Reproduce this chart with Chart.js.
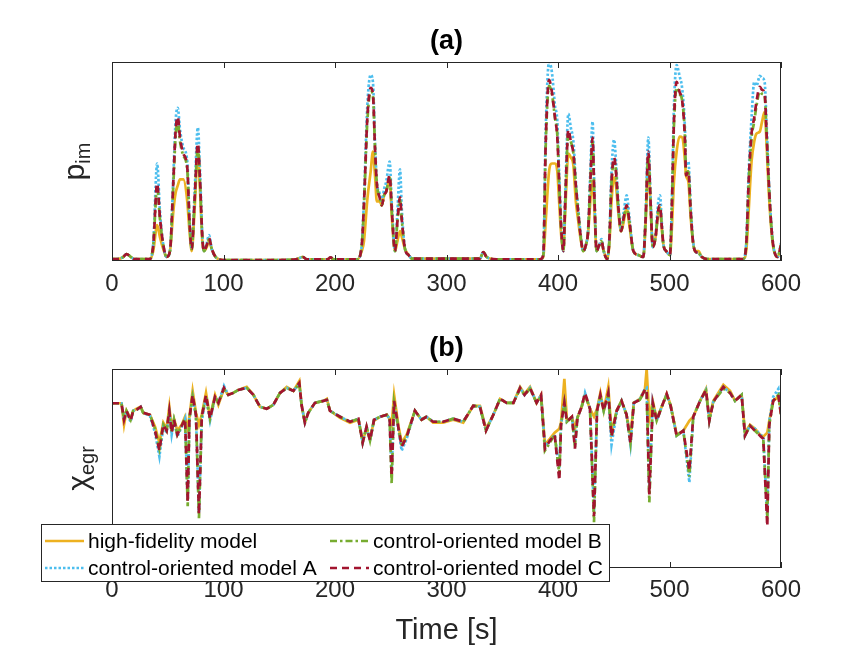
<!DOCTYPE html>
<html>
<head>
<meta charset="utf-8">
<script src="https://cdn.jsdelivr.net/npm/chart.js@4.4.0/dist/chart.umd.min.js"></script>
<style>
  html, body { margin: 0; padding: 0; background: #fff; }
  #wrap { position: relative; width: 864px; height: 648px; }
  canvas { position: absolute; left: 0; top: 0; }
</style>
</head>
<body>
<div id="wrap">
  <canvas id="chartA" width="864" height="648"></canvas>
  <canvas id="chartB" width="864" height="648"></canvas>
</div>
<script>
// x ticks shared by both panels
const xTickValues = [0, 100, 200, 300, 400, 500, 600];
const xTickLabels = ["0", "100", "200", "300", "400", "500", "600"];

const seriesNames = ["high-fidelity model", "control-oriented model A", "control-oriented model B", "control-oriented model C"];

// panel (a): p_im (normalised, no y ticks)
const timeA = [
  0,5,10,13,17,20,34,37,40.5,43,
  46,49,52,55,57,59,61,64,67.5,69.5,
  71.5,74,77,79,81,82.5,85,87,89.5,93,
  100,120,150,165,171,175,193,196,199,220,
  224,226,229,232,234,236,237.5,240,242,244,
  246,249,251,253.8,256,258.3,260,262.8,266,269,
  285,330,333,336,345,384,386.8,389,392,394.5,
  397.3,399.4,401,403,404.8,406.5,409.3,411.5,413.8,416,
  418.2,420,422.6,425,427,429,431,432.5,434.6,437,
  439,441,444,446,448,450.3,452,454,456.6,459,
  461.6,464,467.6,472,476.5,478.5,481,483,485,487.5,
  490,491.5,493,494.6,497,500.4,502,504,506.4,509,
  511.5,513.9,514.8,516.9,519,521,522.9,526,529,533.6,
  566,569,571,573.6,576,578,581,583,585.3,587,
  589,591,593,597,600
];
const pimHF = [
  0.01,0.01,0.02,0.035,0.02,0.01,0.01,0.05,0.18,0.12,
  0.06,0.02,0.05,0.25,0.34,0.38,0.41,0.41,0.30,0.15,
  0.05,0.25,0.55,0.35,0.10,0.05,0.07,0.10,0.06,0.02,
  0.005,0.005,0.005,0.008,0.02,0.008,0.008,0.018,0.008,0.008,
  0.05,0.10,0.31,0.45,0.55,0.42,0.30,0.30,0.28,0.33,
  0.35,0.42,0.22,0.05,0.10,0.15,0.12,0.06,0.03,0.012,
  0.012,0.012,0.045,0.02,0.008,0.008,0.02,0.20,0.45,0.49,
  0.49,0.45,0.30,0.12,0.05,0.25,0.54,0.52,0.48,0.30,
  0.20,0.12,0.05,0.08,0.14,0.30,0.40,0.28,0.05,0.08,
  0.09,0.05,0.01,0.08,0.30,0.42,0.38,0.25,0.15,0.20,
  0.27,0.18,0.05,0.03,0.02,0.18,0.50,0.28,0.07,0.12,
  0.25,0.27,0.17,0.08,0.05,0.03,0.15,0.40,0.55,0.625,
  0.62,0.50,0.43,0.40,0.22,0.10,0.05,0.05,0.02,0.01,
  0.01,0.06,0.25,0.50,0.60,0.64,0.65,0.70,0.75,0.60,
  0.35,0.18,0.07,0.02,0.08
];
const pimA = [
  0.01,0.01,0.02,0.035,0.02,0.01,0.01,0.09,0.49,0.25,
  0.08,0.02,0.05,0.42,0.70,0.77,0.66,0.57,0.50,0.21,
  0.06,0.33,0.67,0.44,0.13,0.05,0.09,0.13,0.06,0.02,
  0.005,0.005,0.005,0.008,0.02,0.008,0.008,0.018,0.008,0.008,
  0.08,0.31,0.78,0.935,0.90,0.58,0.40,0.34,0.30,0.36,
  0.40,0.50,0.28,0.05,0.25,0.46,0.25,0.06,0.03,0.012,
  0.012,0.012,0.045,0.02,0.008,0.008,0.03,0.66,1.00,0.95,
  0.78,0.70,0.44,0.16,0.05,0.33,0.74,0.67,0.60,0.40,
  0.26,0.15,0.05,0.08,0.16,0.45,0.70,0.38,0.05,0.08,
  0.11,0.05,0.01,0.11,0.45,0.61,0.50,0.30,0.16,0.25,
  0.33,0.22,0.05,0.03,0.02,0.22,0.62,0.32,0.07,0.13,
  0.30,0.33,0.20,0.08,0.05,0.03,0.27,0.78,0.985,0.93,
  0.86,0.66,0.48,0.50,0.28,0.11,0.05,0.04,0.02,0.01,
  0.01,0.11,0.44,0.72,0.90,0.88,0.93,0.92,0.90,0.70,
  0.42,0.21,0.08,0.02,0.09
];
const pimB = [
  0.01,0.01,0.02,0.035,0.02,0.01,0.01,0.08,0.37,0.21,
  0.08,0.02,0.05,0.38,0.62,0.70,0.60,0.53,0.46,0.20,
  0.06,0.29,0.57,0.39,0.12,0.05,0.08,0.11,0.06,0.02,
  0.005,0.005,0.005,0.008,0.02,0.008,0.008,0.018,0.008,0.008,
  0.08,0.28,0.70,0.85,0.83,0.55,0.39,0.32,0.28,0.33,
  0.35,0.42,0.25,0.05,0.20,0.31,0.20,0.06,0.03,0.012,
  0.012,0.012,0.045,0.02,0.008,0.008,0.03,0.58,0.88,0.84,
  0.72,0.63,0.40,0.15,0.05,0.30,0.64,0.60,0.54,0.38,
  0.24,0.14,0.05,0.08,0.15,0.39,0.60,0.35,0.05,0.08,
  0.10,0.05,0.01,0.10,0.39,0.50,0.45,0.28,0.15,0.22,
  0.27,0.20,0.05,0.03,0.02,0.20,0.53,0.30,0.07,0.12,
  0.25,0.27,0.18,0.08,0.05,0.03,0.25,0.68,0.87,0.84,
  0.80,0.62,0.45,0.45,0.25,0.10,0.05,0.04,0.02,0.01,
  0.01,0.10,0.39,0.62,0.70,0.78,0.85,0.84,0.83,0.65,
  0.40,0.20,0.08,0.02,0.08
];
const pimC = [
  0.01,0.01,0.02,0.035,0.02,0.01,0.01,0.08,0.39,0.22,
  0.08,0.02,0.05,0.40,0.65,0.725,0.62,0.54,0.47,0.20,
  0.06,0.30,0.59,0.40,0.12,0.05,0.08,0.115,0.06,0.02,
  0.005,0.005,0.005,0.008,0.02,0.008,0.008,0.018,0.008,0.008,
  0.08,0.29,0.72,0.87,0.84,0.55,0.39,0.32,0.28,0.33,
  0.35,0.43,0.25,0.05,0.20,0.32,0.20,0.06,0.03,0.012,
  0.012,0.012,0.045,0.02,0.008,0.008,0.03,0.60,0.91,0.85,
  0.72,0.62,0.40,0.15,0.05,0.30,0.66,0.60,0.54,0.38,
  0.24,0.14,0.05,0.08,0.15,0.40,0.62,0.35,0.05,0.08,
  0.10,0.05,0.01,0.10,0.40,0.52,0.45,0.28,0.15,0.22,
  0.28,0.20,0.05,0.03,0.02,0.20,0.55,0.30,0.07,0.12,
  0.26,0.28,0.18,0.08,0.05,0.03,0.25,0.70,0.90,0.85,
  0.80,0.60,0.43,0.45,0.25,0.10,0.05,0.04,0.02,0.01,
  0.01,0.10,0.40,0.64,0.72,0.80,0.875,0.86,0.845,0.65,
  0.40,0.20,0.08,0.02,0.08
];

// panel (b): x_egr (normalised, no y ticks)
const timeB = [
  0,8.5,10.8,13,16.7,19,22,25.7,28,34,
  38.6,42.5,46,49,51.4,53.5,55.6,58.6,62.5,65.5,
  67.9,69.4,72.3,75.3,78,80.5,84.3,87.9,92.4,95.4,
  100.4,104.3,108.8,113.3,120.8,126.8,132.7,138.7,144.7,150.7,
  156.7,162.7,168,170,173,176,182,189.7,192.7,195.5,
  204.5,213.5,221,224.8,228.3,231.4,235,240.4,246.4,249,
  250.8,253,257,259.8,264.3,271.7,277.6,282,288,297,
  306,315,324,330,335.4,342,348,354,360,366,
  370,374.9,380.8,384.8,388.3,392.8,397,401.2,402.7,405.7,
  408,412.5,415.2,417.4,421.2,424.2,428.7,432.3,435,438,
  441,445.1,448,452.6,457,461.5,465,468,473.4,478,
  479.5,481.9,485,488.5,493,497.5,501,506.4,512.4,517.8,
  521.3,527.4,532.7,535.7,539.3,548.3,554.3,558.8,564.7,567.7,
  572.2,576.7,581.2,584.1,587.7,589.5,593,597.6,600
];
const egrHF = [
  0.828,0.828,0.72,0.79,0.75,0.79,0.80,0.81,0.78,0.77,
  0.71,0.63,0.73,0.70,0.81,0.70,0.75,0.69,0.72,0.76,
  0.70,0.76,0.89,0.78,0.72,0.77,0.88,0.76,0.87,0.82,
  0.90,0.87,0.88,0.895,0.91,0.87,0.81,0.80,0.82,0.88,
  0.91,0.89,0.94,0.82,0.73,0.78,0.83,0.84,0.85,0.79,
  0.755,0.73,0.745,0.64,0.70,0.65,0.74,0.76,0.77,0.75,
  0.72,0.87,0.71,0.63,0.67,0.79,0.745,0.76,0.73,0.73,
  0.745,0.73,0.815,0.815,0.70,0.77,0.85,0.83,0.83,0.91,
  0.875,0.91,0.83,0.87,0.62,0.65,0.68,0.70,0.73,0.95,
  0.74,0.76,0.70,0.755,0.81,0.87,0.80,0.76,0.80,0.88,
  0.79,0.91,0.68,0.79,0.84,0.77,0.66,0.83,0.85,0.90,
  1.0,0.75,0.84,0.75,0.81,0.875,0.82,0.67,0.69,0.74,
  0.76,0.84,0.90,0.75,0.84,0.92,0.89,0.84,0.87,0.68,
  0.72,0.70,0.67,0.66,0.68,0.74,0.84,0.86,0.79
];
const egrA = [
  0.828,0.828,0.745,0.78,0.735,0.79,0.795,0.81,0.78,0.765,
  0.68,0.56,0.71,0.68,0.78,0.67,0.74,0.66,0.71,0.75,
  0.34,0.75,0.86,0.76,0.28,0.74,0.86,0.74,0.86,0.83,
  0.915,0.87,0.88,0.895,0.905,0.87,0.81,0.80,0.82,0.88,
  0.905,0.89,0.925,0.82,0.73,0.78,0.83,0.84,0.845,0.79,
  0.76,0.735,0.75,0.63,0.71,0.64,0.745,0.76,0.77,0.75,
  0.48,0.83,0.69,0.59,0.65,0.79,0.745,0.76,0.735,0.735,
  0.75,0.735,0.815,0.81,0.69,0.77,0.85,0.83,0.83,0.905,
  0.87,0.905,0.83,0.87,0.61,0.64,0.67,0.50,0.72,0.83,
  0.735,0.76,0.62,0.755,0.81,0.88,0.80,0.28,0.79,0.87,
  0.79,0.87,0.62,0.78,0.84,0.77,0.62,0.83,0.85,0.90,
  0.905,0.40,0.83,0.74,0.81,0.875,0.815,0.665,0.69,0.43,
  0.76,0.84,0.895,0.74,0.835,0.91,0.88,0.84,0.87,0.665,
  0.715,0.70,0.67,0.66,0.26,0.74,0.86,0.90,0.78
];
const egrB = [
  0.828,0.828,0.75,0.79,0.745,0.79,0.795,0.81,0.78,0.77,
  0.70,0.60,0.72,0.69,0.78,0.68,0.745,0.67,0.715,0.75,
  0.31,0.75,0.86,0.77,0.25,0.76,0.86,0.75,0.86,0.83,
  0.90,0.87,0.88,0.895,0.905,0.87,0.81,0.80,0.82,0.88,
  0.905,0.89,0.925,0.82,0.73,0.78,0.83,0.84,0.845,0.79,
  0.76,0.735,0.75,0.63,0.71,0.64,0.745,0.76,0.77,0.75,
  0.425,0.83,0.70,0.61,0.66,0.79,0.745,0.76,0.735,0.735,
  0.75,0.735,0.815,0.81,0.69,0.77,0.85,0.83,0.83,0.90,
  0.87,0.90,0.83,0.86,0.59,0.63,0.67,0.47,0.72,0.83,
  0.735,0.76,0.61,0.755,0.81,0.87,0.80,0.23,0.79,0.86,
  0.79,0.87,0.66,0.79,0.84,0.77,0.63,0.83,0.845,0.89,
  0.89,0.33,0.83,0.74,0.81,0.87,0.815,0.665,0.69,0.46,
  0.76,0.84,0.89,0.74,0.835,0.90,0.88,0.84,0.87,0.665,
  0.715,0.69,0.665,0.65,0.25,0.72,0.84,0.87,0.77
];
const egrC = [
  0.828,0.828,0.745,0.79,0.74,0.79,0.795,0.81,0.78,0.77,
  0.69,0.59,0.72,0.69,0.79,0.68,0.745,0.67,0.715,0.75,
  0.33,0.75,0.87,0.77,0.27,0.76,0.87,0.75,0.86,0.83,
  0.905,0.87,0.88,0.895,0.905,0.87,0.81,0.80,0.82,0.88,
  0.905,0.89,0.93,0.82,0.73,0.78,0.83,0.84,0.845,0.79,
  0.76,0.735,0.75,0.63,0.71,0.64,0.745,0.76,0.77,0.75,
  0.46,0.84,0.70,0.61,0.66,0.79,0.745,0.76,0.735,0.735,
  0.75,0.735,0.815,0.81,0.69,0.77,0.85,0.83,0.83,0.905,
  0.87,0.905,0.83,0.87,0.60,0.64,0.67,0.44,0.72,0.83,
  0.735,0.76,0.60,0.755,0.81,0.88,0.80,0.26,0.79,0.87,
  0.79,0.88,0.66,0.79,0.84,0.77,0.625,0.83,0.845,0.895,
  0.90,0.37,0.83,0.74,0.81,0.875,0.815,0.665,0.69,0.49,
  0.76,0.84,0.895,0.74,0.835,0.91,0.88,0.84,0.87,0.665,
  0.715,0.69,0.665,0.65,0.21,0.72,0.84,0.87,0.77
];

const FONT = "'Liberation Sans', Arial, Helvetica, sans-serif";
const AXIS_COLOR = "#262626";
Chart.defaults.font.family = FONT;
Chart.defaults.color = AXIS_COLOR;

// matlab-ish line styles: colour, dash pattern
const styles = [
  { color: "#EDB120", dash: [] },
  { color: "#4DBEEE", dash: [2.5, 2] },
  { color: "#77AC30", dash: [7, 3, 2.5, 3] },
  { color: "#A2142F", dash: [7, 5] }
];

function makeDatasets(t, lists, smooth) {
  return lists.map((vals, i) => ({
    label: seriesNames[i],
    data: t.map((x, k) => ({ x: x, y: vals[k] })),
    borderColor: styles[i].color,
    borderDash: styles[i].dash,
    borderWidth: 2.7,
    pointRadius: 0,
    cubicInterpolationMode: smooth ? "monotone" : "default",
    tension: 0,
    fill: false,
    order: 4 - i
  }));
}

function drawYLabel(ctx, main, sub, cx, cy, subFont, subDrop) {
  ctx.save();
  ctx.translate(cx, cy);
  ctx.rotate(-Math.PI / 2);
  ctx.font = "30px " + FONT;
  const w1 = ctx.measureText(main).width;
  ctx.font = subFont + "px " + FONT;
  const w2 = ctx.measureText(sub).width;
  const x0 = -(w1 + w2) / 2;
  ctx.fillStyle = AXIS_COLOR;
  ctx.textBaseline = "alphabetic";
  ctx.textAlign = "left";
  ctx.font = "30px " + FONT;
  ctx.fillText(main, x0, 0);
  ctx.font = subFont + "px " + FONT;
  ctx.fillText(sub, x0 + w1, subDrop);
  ctx.restore();
}

function drawLegend(ctx) {
  const box = { l: 41.5, t: 524.5, r: 609.5, b: 581.5 };
  ctx.save();
  ctx.fillStyle = "#fff";
  ctx.fillRect(box.l, box.t, box.r - box.l, box.b - box.t);
  ctx.strokeStyle = AXIS_COLOR;
  ctx.lineWidth = 1;
  ctx.strokeRect(box.l, box.t, box.r - box.l, box.b - box.t);
  const cols = [45, 330];
  const rows = [541, 568];
  const slots = [[0, 0], [0, 1], [1, 0], [1, 1]];
  ctx.font = "21px " + FONT;
  ctx.textBaseline = "middle";
  ctx.textAlign = "left";
  slots.forEach((s, i) => {
    const x = cols[s[0]], y = rows[s[1]];
    ctx.strokeStyle = styles[i].color;
    ctx.lineWidth = 2.7;
    ctx.setLineDash(styles[i].dash);
    ctx.beginPath();
    ctx.moveTo(x, y);
    ctx.lineTo(x + 39, y);
    ctx.stroke();
    ctx.setLineDash([]);
    ctx.fillStyle = "#000";
    ctx.fillText(seriesNames[i], x + 43, y + 1);
  });
  ctx.restore();
}

function decor(cfg) {
  return {
    id: "decor",
    afterDraw(chart) {
      const ctx = chart.ctx, a = chart.chartArea, xs = chart.scales.x;
      ctx.save();
      ctx.strokeStyle = AXIS_COLOR;
      ctx.lineWidth = 1;
      ctx.strokeRect(a.left + 0.5, a.top + 0.5, a.right - a.left - 1, a.bottom - a.top - 1);
      ctx.beginPath();
      xTickValues.forEach(v => {
        const px = Math.round(xs.getPixelForValue(v)) + 0.5;
        ctx.moveTo(px, a.top); ctx.lineTo(px, a.top + 6);
        ctx.moveTo(px, a.bottom); ctx.lineTo(px, a.bottom - 6);
      });
      ctx.stroke();
      ctx.fillStyle = "#000";
      ctx.font = "bold 27px " + FONT;
      ctx.textAlign = "center";
      ctx.textBaseline = "middle";
      ctx.fillText(cfg.title, (a.left + a.right) / 2, cfg.titleY);
      ctx.restore();
      drawYLabel(ctx, cfg.main, cfg.sub, cfg.labelX, (a.top + a.bottom) / 2, 20, 6);
      if (cfg.legend) drawLegend(ctx);
    }
  };
}

function xAxis(height, padding, title) {
  return {
    type: "linear",
    min: 0,
    max: 600,
    afterBuildTicks: s => { s.ticks = xTickValues.map(v => ({ value: v })); },
    afterFit: s => { s.height = height; },
    ticks: {
      callback: (v, i) => xTickLabels[i],
      font: { size: 24 },
      color: AXIS_COLOR,
      padding: padding,
      maxRotation: 0,
      autoSkip: false
    },
    grid: { display: false, drawTicks: false },
    border: { display: false },
    title: title ? { display: true, text: title, font: { size: 29 }, color: AXIS_COLOR, padding: 0 } : { display: false }
  };
}

new Chart(document.getElementById("chartA"), {
  type: "line",
  data: { datasets: makeDatasets(timeA, [pimHF, pimA, pimB, pimC], true) },
  options: {
    responsive: false,
    animation: false,
    layout: { padding: { left: 112, right: 83, top: 62, bottom: 648 - 261 - 45 } },
    plugins: { legend: { display: false }, tooltip: { enabled: false } },
    scales: {
      x: xAxis(45, 9),
      y: { min: 0, max: 1, display: false }
    }
  },
  plugins: [decor({ title: "(a)", titleY: 42, main: "p", sub: "im", labelX: 84 })]
});

new Chart(document.getElementById("chartB"), {
  type: "line",
  data: { datasets: makeDatasets(timeB, [egrHF, egrA, egrB, egrC], false) },
  options: {
    responsive: false,
    animation: false,
    layout: { padding: { left: 112, right: 83, top: 369, bottom: 0 } },
    plugins: { legend: { display: false }, tooltip: { enabled: false } },
    scales: {
      x: xAxis(648 - 568, 8, "Time [s]"),
      y: { min: 0, max: 1, display: false }
    }
  },
  plugins: [decor({ title: "(b)", titleY: 349, main: "\u03c7", sub: "egr", labelX: 88, legend: true })]
});
</script>
</body>
</html>
